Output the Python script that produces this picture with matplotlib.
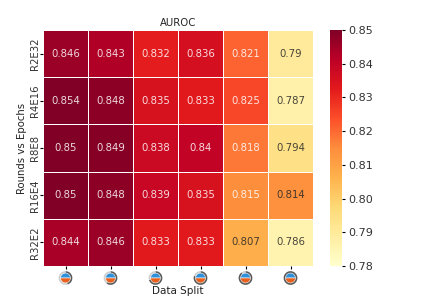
import numpy as np
import matplotlib
matplotlib.use("Agg")
import matplotlib.pyplot as plt
import seaborn as sns

rounds = ["R2E32", "R4E16", "R8E8", "R16E4", "R32E2"]
auroc = [
    [0.846, 0.843, 0.832, 0.836, 0.821, 0.79],
    [0.854, 0.848, 0.835, 0.833, 0.825, 0.787],
    [0.85, 0.849, 0.838, 0.84, 0.818, 0.794],
    [0.85, 0.848, 0.839, 0.835, 0.815, 0.814],
    [0.844, 0.846, 0.833, 0.833, 0.807, 0.786],
]
# share of the grey ring in each split icon
ring_share = [0.45, 0.6, 0.7, 0.8, 0.9, 1.0]


def draw_icon(fig, cx, cy, size, share):
    ax = fig.add_axes([cx - size / 2 / 423, cy - size / 2 / 296, size / 423, size / 296])
    ax.pie([share, 1 - share], colors=["#5a5a5a", "#cfcfcf"], startangle=90,
           counterclock=False, radius=1.0)
    ax.pie([1, 1], colors=["#2f8fd8", "#e8601c"], startangle=0, radius=0.72,
           wedgeprops={"edgecolor": "white", "linewidth": 0.4})
    ax.set_xlim(-1.02, 1.02)
    ax.set_ylim(-1.02, 1.02)
    ax.set_aspect("equal")


fig = plt.figure(figsize=(4.23, 2.96), dpi=100)
ax = fig.add_axes([43 / 423, 1 - 266 / 296, 270 / 423, 236 / 296])
cax = fig.add_axes([330 / 423, 1 - 266 / 296, 12 / 423, 236 / 296])

sns.heatmap(
    np.array(auroc),
    ax=ax,
    cbar_ax=cax,
    cmap="YlOrRd",
    vmin=0.78,
    vmax=0.85,
    annot=True,
    fmt=".3g",
    annot_kws={"fontsize": 7.3, "alpha": 0.85},
    linewidths=0.7,
    linecolor="white",
    yticklabels=rounds,
    xticklabels=False,
)
ax.set_title("AUROC", fontsize=7.3, pad=3, color="#222222")
ax.set_ylabel("Rounds vs Epochs", fontsize=7.3, color="#222222")
ax.yaxis.set_label_coords(-16 / 270, 0.5)
ax.tick_params(axis="y", labelsize=7.3, length=2, pad=0.5, labelcolor="#333333")
ax.set_xticks(np.arange(6) + 0.5)
ax.tick_params(axis="x", length=2.5, labelbottom=False)
cax.tick_params(labelsize=8, length=2.5, pad=2, labelcolor="#333333")
cax.set_yticks(np.arange(0.78, 0.851, 0.01))

for i, share in enumerate(ring_share):
    cx = (43 + 270 * (i + 0.5) / 6) / 423
    draw_icon(fig, cx, 1 - 278 / 296, 14, share)

fig.text(178 / 423, 1 - 291 / 296, "Data Split", fontsize=7.5, ha="center", va="center", color="#222222")

fig.savefig("out.png", dpi=100)
